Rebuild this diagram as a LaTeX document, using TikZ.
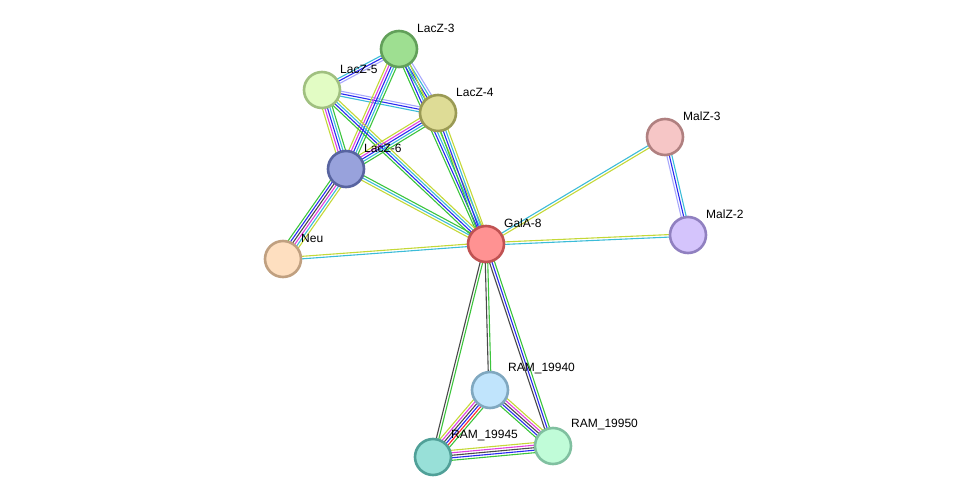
\documentclass[tikz,border=0pt]{standalone}
\usepackage{fontspec}
\setmainfont{Liberation Sans}
\usetikzlibrary{calc,backgrounds}

% evidence colours
\definecolor{txt}{HTML}{C4D838}
\definecolor{coex}{HTML}{4A4A4A}
\definecolor{expt}{HTML}{E040E0}
\definecolor{dbase}{HTML}{3CBCD8}
\definecolor{fus}{HTML}{FF2A2A}
\definecolor{nbh}{HTML}{3CC43C}
\definecolor{cooc}{HTML}{2A2AF0}
\definecolor{homo}{HTML}{A8A8FC}

\tikzset{
  prot/.style={circle, line width=2.6pt, minimum size=36pt, inner sep=0pt},
  plabel/.style={anchor=west, font=\fontsize{12}{14}\selectfont, inner sep=0pt},
}

% parallel lines of one link, one per evidence colour
\newcommand{\protlink}[3]{%
  \foreach \c [count=\n] in {#3} {\xdef\nlines{\n}}%
  \foreach \c [count=\i] in {#3} {%
    \pgfmathsetmacro\off{(\i-(\nlines+1)/2)*2.5}%
    \draw[\c, line width=1.1pt] ($(#1)!\off pt!90:(#2)$) -- ($(#2)!\off pt!-90:(#1)$);
  }%
}

\begin{document}
\begin{tikzpicture}[x=1pt, y=-1pt]
  \useasboundingbox (0,0) rectangle (975,502);

  \node[prot, fill={rgb,255:red,158;green,223;blue,145}, draw={rgb,255:red,98;green,160;blue,90}] (lacz3) at (399,49) {};
  \node[prot, fill={rgb,255:red,226;green,252;blue,196}, draw={rgb,255:red,160;green,192;blue,128}] (lacz5) at (322,90) {};
  \node[prot, fill={rgb,255:red,222;green,220;blue,150}, draw={rgb,255:red,154;green,154;blue,84}] (lacz4) at (438,113) {};
  \node[prot, fill={rgb,255:red,152;green,162;blue,220}, draw={rgb,255:red,88;green,100;blue,160}] (lacz6) at (346,169) {};
  \node[prot, fill={rgb,255:red,254;green,223;blue,192}, draw={rgb,255:red,192;green,160;blue,128}] (neu) at (283,259) {};
  \node[prot, fill={rgb,255:red,255;green,146;blue,146}, draw={rgb,255:red,192;green,82;blue,82}] (gala8) at (486,244) {};
  \node[prot, fill={rgb,255:red,246;green,198;blue,198}, draw={rgb,255:red,176;green,128;blue,128}] (malz3) at (665,137) {};
  \node[prot, fill={rgb,255:red,212;green,196;blue,252}, draw={rgb,255:red,144;green,128;blue,192}] (malz2) at (688,235) {};
  \node[prot, fill={rgb,255:red,192;green,228;blue,252}, draw={rgb,255:red,128;green,168;blue,192}] (ram40) at (490,390) {};
  \node[prot, fill={rgb,255:red,192;green,252;blue,216}, draw={rgb,255:red,128;green,192;blue,160}] (ram50) at (553,446) {};
  \node[prot, fill={rgb,255:red,152;green,224;blue,216}, draw={rgb,255:red,80;green,160;blue,152}] (ram45) at (433,457) {};

  \begin{pgfonlayer}{background}
    \protlink{lacz3}{lacz5}{dbase,cooc,homo}
    \protlink{lacz5}{lacz4}{dbase,cooc,homo}
    \protlink{lacz3}{lacz4}{nbh,cooc,dbase,homo}
    \protlink{lacz3}{lacz6}{txt,expt,cooc,dbase,nbh}
    \protlink{lacz3}{gala8}{nbh,cooc,dbase,txt}
    \protlink{lacz5}{lacz6}{txt,expt,cooc,dbase,nbh}
    \protlink{lacz5}{gala8}{nbh,cooc,dbase,txt}
    \protlink{lacz4}{lacz6}{txt,expt,cooc,dbase,nbh}
    \protlink{lacz4}{gala8}{nbh,cooc,dbase,txt}
    \protlink{lacz6}{gala8}{txt,dbase,nbh}
    \protlink{lacz6}{neu}{nbh,cooc,coex,expt,dbase,txt}
    \protlink{neu}{gala8}{dbase,txt}
    \protlink{gala8}{malz3}{txt,dbase}
    \protlink{gala8}{malz2}{dbase,txt}
    \protlink{malz3}{malz2}{homo,cooc,dbase}
    \protlink{gala8}{ram40}{coex,nbh}
    \protlink{gala8}{ram45}{coex,nbh}
    \protlink{gala8}{ram50}{coex,cooc,nbh}
    \protlink{ram40}{ram45}{txt,expt,coex,cooc,fus,nbh}
    \protlink{ram40}{ram50}{nbh,cooc,coex,expt,txt}
    \protlink{ram45}{ram50}{nbh,cooc,coex,expt,txt}
  \end{pgfonlayer}

  \node[plabel] at ($(lacz3)+(18,-21)$) {LacZ-3};
  \node[plabel] at ($(lacz5)+(18,-21)$) {LacZ-5};
  \node[plabel] at ($(lacz4)+(18,-21)$) {LacZ-4};
  \node[plabel] at ($(lacz6)+(18,-21)$) {LacZ-6};
  \node[plabel] at ($(neu)+(18,-21)$) {Neu};
  \node[plabel] at ($(gala8)+(18,-21)$) {GalA-8};
  \node[plabel] at ($(malz3)+(18,-21)$) {MalZ-3};
  \node[plabel] at ($(malz2)+(18,-21)$) {MalZ-2};
  \node[plabel] at ($(ram40)+(18,-21)$) {RAM\_19940};
  \node[plabel] at ($(ram50)+(18,-21)$) {RAM\_19950};
  \node[plabel] at ($(ram45)+(18,-21)$) {RAM\_19945};
\end{tikzpicture}
\end{document}
